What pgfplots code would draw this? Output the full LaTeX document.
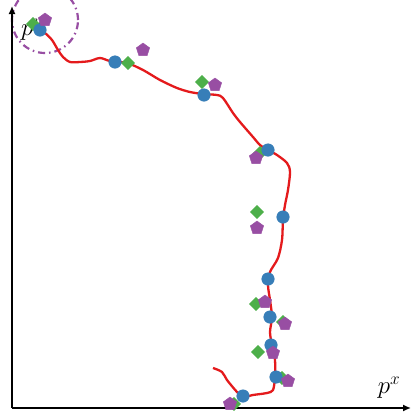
\documentclass[border=0pt]{standalone}
\usepackage{pgfplots}
\pgfplotsset{compat=1.18}
\usetikzlibrary{arrows.meta}
\definecolor{cred}{HTML}{E41A1C}
\definecolor{cblue}{HTML}{377EB8}
\definecolor{cgreen}{HTML}{4DAF4A}
\definecolor{cpurple}{HTML}{984EA3}
\begin{document}
\begin{tikzpicture}
\begin{axis}[
  scale only axis, width=412pt, height=413pt,
  xmin=0, xmax=412, ymin=0, ymax=413, y dir=reverse,
  axis lines=none, clip=true,
]
\path (axis cs:0,0) rectangle (axis cs:412,413);
\draw[cpurple, line width=2.2pt, dash pattern=on 7pt off 4pt on 1.5pt off 4pt] (axis cs:45,20) circle[radius=33pt];
\draw[black, line width=1.5pt, -{Latex[length=8pt,width=7pt]}] (axis cs:12,408) -- (axis cs:12,6);
\draw[black, line width=1.5pt, -{Latex[length=8pt,width=7pt]}] (axis cs:12,408) -- (axis cs:411,408);
\addplot[cred, line width=2.3pt, smooth, tension=0.5] coordinates {
(40,30)(45,33)(52,40)(58,50)(63,57)(70,62)(80,62)(90,61)(100,58)(110,61)(127,63)(143,70)(160,80)(177,88)(190,92)(203,94)(217,95)(223,98)(233,113)(240,122)(253,137)(260,145)(268,150)(277,155)(287,163)(290,172)(288,190)(285,205)(283,220)(282,240)(278,258)(270,272)(268,285)(270,300)(272,317)(270,332)(272,345)(275,360)(275,377)(273,390)(267,393)(253,395)(243,397)(237,392)(227,380)(222,372)(213,368)
};
\addplot[only marks, mark=square*, mark size=4.7pt, mark options={rotate=45}, draw=cgreen, fill=cgreen] coordinates {
(33,24)(128,63)(202,82)(260,153)(257,212)(256,304)(283,322)(258,352)(282,378)(234,404)
};
\addplot[only marks, mark=*, mark size=6.3pt, draw=cblue, fill=cblue] coordinates {
(40,30)(115,62)(204,95)(268,150)(283,217)(268,279)(270,317)(271,345)(276,377)(243,396)
};
\addplot[only marks, mark=pentagon*, mark size=7pt, draw=cpurple, fill=cpurple] coordinates {
(45,20)(143,50)(215,85)(256,158)(257,228)(265,302)(285,324)(273,353)(288,381)(230,404)
};
\node[font=\fontsize{24}{28}\selectfont] at (axis cs:389,388) {$p^x$};
\node[font=\fontsize{24}{28}\selectfont] at (axis cs:32,30) {$p^y$};
\end{axis}
\end{tikzpicture}
\end{document}
